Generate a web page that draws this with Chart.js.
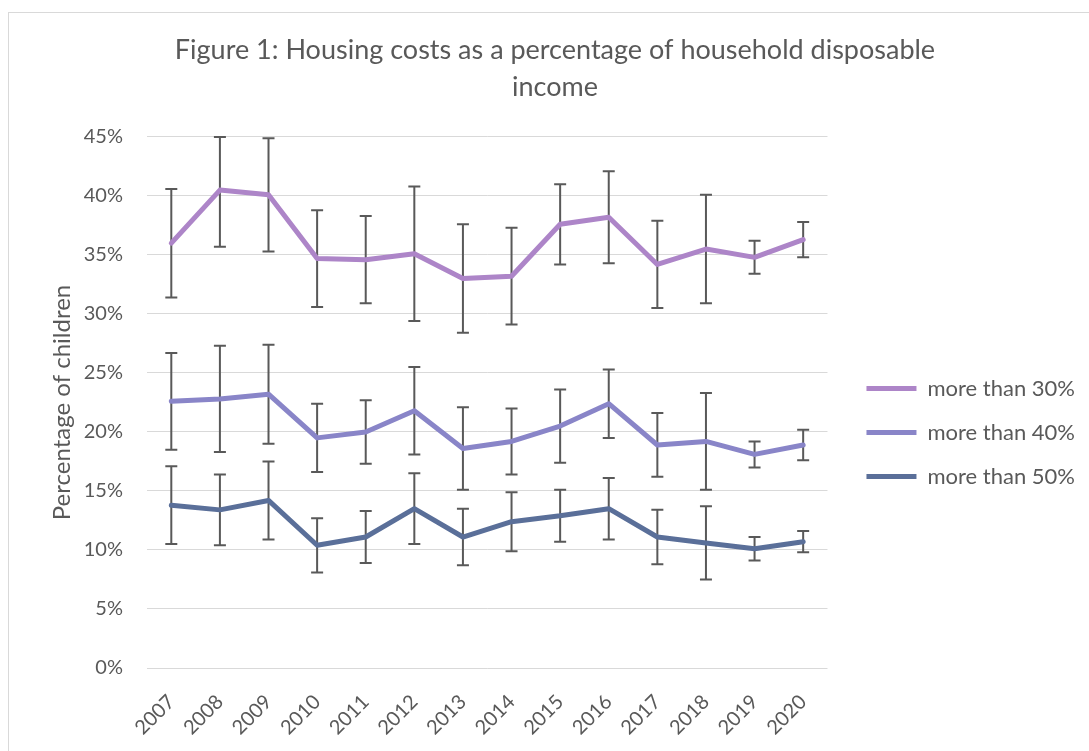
<!DOCTYPE html>
<html>
<head>
<meta charset="utf-8">
<script src="https://cdn.jsdelivr.net/npm/chart.js@4.4.1/dist/chart.umd.min.js"></script>
<style>
  html, body { margin: 0; padding: 0; background: #ffffff; overflow: hidden; width: 1089px; height: 751px; }
  #frame { position: absolute; left: 8px; top: 12px; width: 2000px; height: 2000px; border: 1px solid #d9d9d9; box-sizing: border-box; }
  #wrap { position: absolute; left: 0; top: 0; width: 1089px; height: 751px; }
</style>
</head>
<body>
<div id="frame"></div>
<div id="wrap"><canvas id="c" width="1089" height="751"></canvas></div>
<script>
const years = ['2007','2008','2009','2010','2011','2012','2013','2014','2015','2016','2017','2018','2019','2020'];
const seriesLabels = ['more than 30%', 'more than 40%', 'more than 50%'];

const over30 = [36.0, 40.5, 40.1, 34.7, 34.6, 35.1, 33.0, 33.2, 37.6, 38.2, 34.2, 35.5, 34.8, 36.3];
const over30High = [40.6, 45.0, 44.9, 38.8, 38.3, 40.8, 37.6, 37.3, 41.0, 42.1, 37.9, 40.1, 36.2, 37.8];
const over30Low = [31.4, 35.7, 35.3, 30.6, 30.9, 29.4, 28.4, 29.1, 34.2, 34.3, 30.5, 30.9, 33.4, 34.8];

const over40 = [22.6, 22.8, 23.2, 19.5, 20.0, 21.8, 18.6, 19.2, 20.5, 22.4, 18.9, 19.2, 18.1, 18.9];
const over40High = [26.7, 27.3, 27.4, 22.4, 22.7, 25.5, 22.1, 22.0, 23.6, 25.3, 21.6, 23.3, 19.2, 20.2];
const over40Low = [18.5, 18.3, 19.0, 16.6, 17.3, 18.1, 15.1, 16.4, 17.4, 19.5, 16.2, 15.1, 17.0, 17.6];

const over50 = [13.8, 13.4, 14.2, 10.4, 11.1, 13.5, 11.1, 12.4, 12.9, 13.5, 11.1, 10.6, 10.1, 10.7];
const over50High = [17.1, 16.4, 17.5, 12.7, 13.3, 16.5, 13.5, 14.9, 15.1, 16.1, 13.4, 13.7, 11.1, 11.6];
const over50Low = [10.5, 10.4, 10.9, 8.1, 8.9, 10.5, 8.7, 9.9, 10.7, 10.9, 8.8, 7.5, 9.1, 9.8];

const yTicks = [0, 5, 10, 15, 20, 25, 30, 35, 40, 45];

const FONT = 'Lato, "Open Sans", sans-serif';
const TEXT = '#595959';
const legendFontSize = 22;

// measure legend text to size the right padding
const mctx = document.createElement('canvas').getContext('2d');
mctx.font = legendFontSize + 'px ' + FONT;
let maxW = 0;
seriesLabels.forEach(t => { maxW = Math.max(maxW, mctx.measureText(t).width); });
const padRight = Math.max(0, Math.round(152 - maxW));
const padLeft = 21 + padRight;

const errorBars = {
  id: 'errorBars',
  beforeDatasetsDraw(chart) {
    const ctx = chart.ctx;
    const ys = chart.scales.y;
    ctx.save();
    ctx.strokeStyle = '#595959';
    ctx.lineWidth = 2;
    ctx.lineCap = 'butt';
    chart.data.datasets.forEach((ds, di) => {
      const meta = chart.getDatasetMeta(di);
      meta.data.forEach((pt, i) => {
        const x = pt.x;
        const yh = ys.getPixelForValue(ds.errHigh[i]);
        const yl = ys.getPixelForValue(ds.errLow[i]);
        ctx.beginPath();
        ctx.moveTo(x, yh); ctx.lineTo(x, yl);
        ctx.moveTo(x - 6, yh); ctx.lineTo(x + 6, yh);
        ctx.moveTo(x - 6, yl); ctx.lineTo(x + 6, yl);
        ctx.stroke();
      });
    });
    ctx.restore();
  }
};

function mkDs(label, data, hi, lo, color) {
  return {
    label, data, errHigh: hi, errLow: lo,
    borderColor: color, backgroundColor: color,
    borderWidth: 5, pointRadius: 0, pointHoverRadius: 0, tension: 0,
    borderCapStyle: 'round', borderJoinStyle: 'round', pointStyle: 'line', fill: false
  };
}

new Chart(document.getElementById('c'), {
  type: 'line',
  data: {
    labels: years,
    datasets: [
      mkDs(seriesLabels[0], over30, over30High, over30Low, '#AD85C8'),
      mkDs(seriesLabels[1], over40, over40High, over40Low, '#8985C8'),
      mkDs(seriesLabels[2], over50, over50High, over50Low, '#5A6F99')
    ]
  },
  options: {
    responsive: false,
    animation: false,
    events: [],
    layout: { padding: { left: padLeft, right: padRight, top: 0, bottom: 0 } },
    plugins: {
      title: {
        display: true,
        text: ['Figure 1: Housing costs as a percentage of household disposable', 'income'],
        color: TEXT,
        font: { family: FONT, size: 27, weight: 'normal', lineHeight: 1.37 },
        padding: { top: 32, bottom: 31 }
      },
      legend: {
        display: true,
        position: 'right',
        align: 'center',
        title: { display: true, text: ' ', font: { size: 10, lineHeight: '114px' }, padding: 0 },
        labels: {
          usePointStyle: true,
          pointStyle: 'line',
          pointStyleWidth: 50,
          boxHeight: 5,
          padding: 22,
          color: TEXT,
          font: { family: FONT, size: legendFontSize }
        }
      },
      tooltip: { enabled: false }
    },
    scales: {
      x: {
        type: 'category',
        offset: true,
        grid: { display: false },
        border: { display: false },
        ticks: { color: TEXT, font: { family: FONT, size: 20 }, maxRotation: 45, minRotation: 45, padding: 14, autoSkip: false },
        afterFit: s => { s.height = 83; }
      },
      y: {
        type: 'linear',
        min: 0, max: 45,
        afterBuildTicks: s => { s.ticks = yTicks.map(v => ({ value: v })); },
        grid: { color: '#d9d9d9', lineWidth: 1, drawTicks: false },
        border: { display: false },
        ticks: { color: TEXT, font: { family: FONT, size: 20 }, padding: 24, callback: v => v + '%' },
        title: {
          display: true, text: 'Percentage of children', color: TEXT,
          font: { family: FONT, size: 24, lineHeight: 1.2 },
          padding: { top: Math.round(62 - padLeft - 14.4), bottom: 0 }
        },
        afterFit: s => { s.width = 147 - padLeft; }
      },
      yR: {
        position: 'right',
        display: false,
        afterFit: s => { s.width = 17; }
      }
    }
  },
  plugins: [errorBars]
});
</script>
</body>
</html>
